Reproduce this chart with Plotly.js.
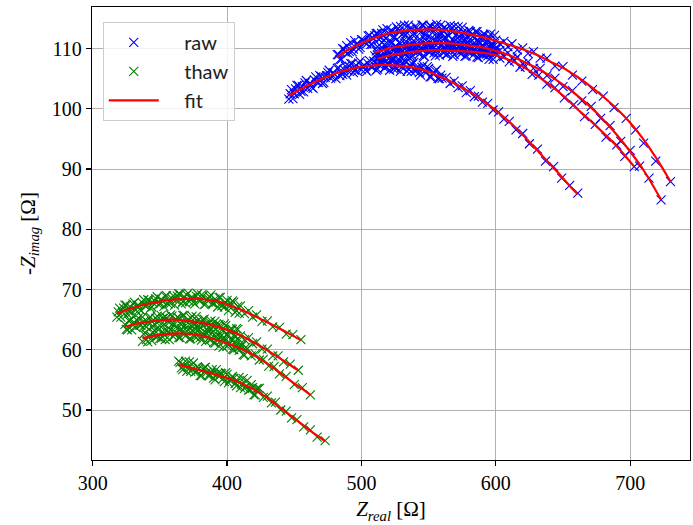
<!DOCTYPE html>
<html>
<head>
<meta charset="utf-8">
<script src="https://cdn.plot.ly/plotly-3.0.1.min.js"></script>
<style>html,body{margin:0;padding:0;background:#fff;}#chart{width:693px;height:525px;}</style>
</head>
<body>
<div id="chart"></div>
<script>
// ---- raw (blue) arcs ----
const rawA_x = [446,448,450,452,454,456,458,460,462,464,466,468,470,472,474,476,478,480,482,484,486,488,490,492,494,496,498,500,502,504,506,508,510,512,514,516,518,520,522,524,526,528,530,532,534,536,538,540,542,544,546,548,550,552,554,556,558,560,
  563,566,569,572,575,578,581,584,587,590,594,598,602,606,610,615,620,625,631,637,643,649,655,661];
const rawA_y = [101.6,103.2,102.5,103.9,102.4,103.7,104.3,103.4,104.2,103.4,105.3,104.4,105.4,104.4,105.5,106.4,105.3,105.7,106.7,105.5,105.7,107.1,106.3,107.5,106.0,107.2,107.6,106.5,107.2,106.2,108.0,106.9,107.7,106.6,107.5,108.2,106.9,107.2,108.0,106.6,106.6,107.9,106.9,108.0,106.2,107.3,107.4,106.2,106.7,105.6,107.2,106.0,106.7,105.3,106.0,106.5,105.0,105.1,
  105.2,104.2,104.6,103.5,103.8,102.7,103.0,102.0,102.1,101.1,100.9,99.8,99.5,98.3,97.9,96.5,95.9,94.2,93.3,91.3,90.4,88.5,87.3,86.0];
const rawA2_x = [447,449,451,453,455,457,459,461,463,465,467,469,471,473,475,477,479,481,483,485,487,489,491,493,495,497,499,501,503,505,507,509,511,513,515,517,519,521,523,525,527,529,531,533,535,537,539,541,543,545,547,549,551,553,555,557,559];
const rawA2_y = [102.5,101.7,103.3,103.9,102.9,102.8,104.7,104.1,103.6,104.8,104.4,105.5,104.2,105.2,106.0,105.1,106.0,105.0,106.8,105.9,106.5,105.6,107.1,107.5,106.4,106.2,107.9,107.1,106.5,107.5,107.0,107.9,106.4,107.3,107.9,106.8,107.6,106.4,108.0,106.9,107.4,106.2,107.6,107.8,106.6,106.2,107.7,106.8,106.0,106.9,106.2,107.0,105.3,105.9,106.3,105.0,105.6];
const rawB_x = [482,484,486,488,490,492,494,496,498,500,502,504,506,508,510,512,514,516,518,520,522,524,526,528,530,532,534,536,538,540,542,544,546,548,550,552,554,556,558,560,562,564,566,568,570,572,574,576,578,580,582,584,586,588,590,592,594,596,598,600,
  603,606,609,612,616,620,624,628,633,638,644,650,657,664,672,680,688,697,704,710,719,730];
const rawB_y = [109.0,108.2,110.0,109.4,109.2,111.0,109.9,110.7,109.9,111.5,111.1,110.8,112.2,110.7,112.1,112.5,111.8,113.1,111.7,112.6,113.0,112.0,113.6,112.8,112.3,113.9,112.6,113.3,112.3,113.7,113.2,112.7,113.9,112.3,113.5,113.7,112.9,114.0,112.4,113.2,113.5,112.3,113.8,112.8,112.2,113.6,112.3,112.8,111.7,113.0,112.3,111.7,112.8,111.1,112.2,112.3,111.4,112.4,110.7,111.4,
  110.8,111.2,110.3,110.8,109.8,110.1,109.2,109.5,108.4,108.4,107.1,107.0,105.6,104.6,103.2,102.1,100.2,98.4,96.5,94.3,91.3,87.9];
const rawB2_x = [483,485,487,489,491,493,495,497,499,501,503,505,507,509,511,513,515,517,519,521,523,525,527,529,531,533,535,537,539,541,543,545,547,549,551,553,555,557,559,561,563,565,567,569,571,573,575,577,579,581,583,585,587,589,591,593,595,597,599];
const rawB2_y = [109.0,108.2,109.9,110.5,109.5,109.5,111.3,110.7,110.2,111.4,111.0,112.1,110.7,111.7,112.5,111.5,112.5,111.4,113.3,112.3,112.9,111.9,113.3,113.7,112.5,112.3,113.9,113.2,112.5,113.5,113.0,113.9,112.4,113.2,113.8,112.7,113.5,112.2,113.9,112.8,113.2,112.1,113.4,113.7,112.4,112.0,113.5,112.6,111.9,112.8,112.0,112.8,111.2,112.0,112.4,111.2,111.9,110.6,112.2];
const rawC_x = [510,512,514,516,518,520,522,524,526,528,530,532,534,536,538,540,542,544,546,548,550,552,554,556,558,560,562,564,566,568,570,572,574,576,578,580,582,584,586,588,590,592,594,596,598,600,
  603,606,609,612,616,620,624,628,633,638,644,650,657,664,671,678,685,693,700,707,714,723];
const rawC_y = [108.8,110.3,108.8,110.0,110.5,109.7,111.0,109.6,110.3,111.0,109.5,110.9,110.4,111.4,110.0,111.0,110.4,111.4,110.0,111.4,110.4,111.7,110.1,111.1,111.5,110.6,111.8,110.3,110.8,111.5,109.9,111.1,110.5,111.4,109.9,110.8,110.0,111.0,109.5,110.8,109.7,110.9,109.2,110.1,110.3,109.3,
  109.7,108.8,109.3,108.4,108.6,107.5,107.8,106.7,106.7,105.5,105.1,103.7,103.0,101.3,100.4,98.4,97.2,94.6,93.1,90.5,88.5,84.9];
const rawC2_x = [511,513,515,517,519,521,523,525,527,529,531,533,535,537,539,541,543,545,547,549,551,553,555,557,559,561,563,565,567,569,571,573,575,577,579,581,583,585,587,589,591,593,595,597,599];
const rawC2_y = [109.6,108.6,110.2,110.6,109.6,109.4,111.0,110.3,109.7,110.8,110.2,111.2,109.8,110.6,111.3,110.2,111.1,109.9,111.6,110.6,111.1,110.0,111.4,111.7,110.5,110.2,111.8,110.9,110.2,111.2,110.6,111.4,109.8,110.6,111.1,110.0,110.7,109.4,111.1,109.9,110.3,109.1,110.4,110.6,109.3];
const rawD_x = [512,514,516,518,520,522,524,526,528,530,532,534,536,538,540,542,544,546,548,550,552,554,556,558,560,562,564,566,568,570,572,574,576,578,580,582,584,586,588,590,592,594,596,598,600,
  603,606,610,614,618,622,627,632,638,644,651,658,666,674,682,690,696,703];
const rawD_y = [108.9,108.0,108.6,107.9,109.7,108.7,108.4,109.6,108.2,109.5,110.0,108.8,109.6,108.8,110.3,109.5,110.0,108.8,110.3,109.4,110.3,109.3,109.8,108.9,110.6,109.5,109.1,110.2,108.7,109.9,110.3,109.1,109.8,108.8,110.3,109.4,109.8,108.6,110.0,109.0,109.8,108.8,109.2,108.2,109.8,
  108.4,108.7,107.8,108.0,106.9,107.0,105.7,105.6,104.1,103.5,101.8,100.7,98.7,97.4,95.3,94.0,92.1,90.4];
const rawD2_x = [513,515,517,519,521,523,525,527,529,531,533,535,537,539,541,543,545,547,549,551,553,555,557,559,561,563,565,567,569,571,573,575,577,579,581,583,585,587,589,591,593,595,597,599];
const rawD2_y = [108.6,107.6,109.1,109.6,108.5,108.3,109.9,109.2,108.6,109.6,109.1,110.0,108.6,109.5,110.1,109.1,109.9,108.7,110.5,109.4,109.9,108.8,110.2,110.5,109.3,109.0,110.6,109.7,109.0,110.0,109.4,110.3,108.7,109.5,110.1,108.9,109.7,108.5,110.1,109.0,109.4,108.2,109.5,109.8];

// ---- thaw (green) arcs ----
const thaw1_x = [318,320,322,324,326,328,330,332,334,336,338,340,342,344,346,348,350,352,354,356,358,360,362,364,366,368,370,372,374,376,378,380,382,384,386,388,390,392,394,396,398,400,402,404,406,408,410,
  413,416,419,422,426,430,434,439,444,449,455];
const thaw1_y = [65.4,66.9,66.2,67.4,65.9,67.1,67.6,66.6,67.4,66.5,68.3,67.3,68.2,67.1,68.1,68.8,67.6,68.0,68.9,67.6,67.7,69.0,68.2,69.3,67.6,68.8,69.1,68.0,68.6,67.6,69.3,68.1,68.9,67.6,68.5,69.1,67.7,67.9,68.7,67.3,67.1,68.2,67.2,68.1,66.2,67.2,67.3,
  66.0,66.5,65.4,65.8,64.7,64.8,63.8,63.7,62.6,62.5,61.7];
const thaw1b_x = [319,321,323,325,327,329,331,333,335,337,339,341,343,345,347,349,351,353,355,357,359,361,363,365,367,369,371,373,375,377,379,381,383,385,387,389,391,393,395,397,399,401,403,405,407,409];
const thaw1b_y = [66.3,65.4,66.9,67.4,66.4,66.2,67.9,67.3,66.7,67.8,67.3,68.3,66.9,67.8,68.5,67.5,68.4,67.2,69.0,67.9,68.5,67.4,68.9,69.2,68.0,67.8,69.4,68.6,67.9,68.9,68.2,69.1,67.5,68.3,68.8,67.7,68.4,67.1,68.7,67.5,67.8,66.5,67.8,67.9,66.5,66.1];
const thaw2_x = [324,326,328,330,332,334,336,338,340,342,344,346,348,350,352,354,356,358,360,362,364,366,368,370,372,374,376,378,380,382,384,386,388,390,392,394,396,398,400,402,404,406,408,410,
  413,416,419,422,426,430,434,438,442,447,453];
const thaw2_y = [64.2,63.3,64.9,64.1,63.7,65.3,64.1,64.7,63.8,65.3,64.7,64.3,65.6,64.0,65.2,65.5,64.7,65.8,64.3,65.1,65.3,64.2,65.7,64.7,64.2,65.6,64.2,64.8,63.7,65.0,64.3,63.7,64.8,63.1,64.2,64.2,63.3,64.3,62.6,63.2,63.4,62.1,63.4,62.3,
  61.7,62.0,61.0,61.3,60.1,60.1,59.0,59.0,58.0,57.6,56.6];
const thaw2b_x = [325,327,329,331,333,335,337,339,341,343,345,347,349,351,353,355,357,359,361,363,365,367,369,371,373,375,377,379,381,383,385,387,389,391,393,395,397,399,401,403,405,407,409];
const thaw2b_y = [63.4,64.8,63.3,64.5,64.9,64.1,65.4,64.0,64.6,65.4,63.9,65.2,64.7,65.7,64.2,65.3,64.6,65.6,64.2,65.4,64.4,65.7,64.0,65.0,65.3,64.4,65.5,63.9,64.5,65.1,63.4,64.6,63.9,64.7,63.1,64.0,63.1,64.0,62.4,63.5,62.4,63.5,61.7];
const thaw3_x = [337,339,341,343,345,347,349,351,353,355,357,359,361,363,365,367,369,371,373,375,377,379,381,383,385,387,389,391,393,395,397,399,401,403,405,407,409,411,413,415,
  418,421,424,427,431,435,439,444,450,456,462];
const thaw3_y = [61.4,62.8,61.3,62.4,62.9,62.1,63.3,61.9,62.6,63.3,61.7,63.1,62.5,63.5,62.0,63.0,62.3,63.3,61.8,63.1,62.0,63.3,61.6,62.5,62.7,61.7,62.8,61.1,61.6,62.2,60.4,61.6,60.8,61.7,60.0,60.8,59.9,60.7,59.1,60.2,
  59.0,59.3,58.3,58.4,57.3,57.2,56.0,55.6,54.2,53.7,52.5];
const thaw3b_x = [338,340,342,344,346,348,350,352,354,356,358,360,362,364,366,368,370,372,374,376,378,380,382,384,386,388,390,392,394,396,398,400,402,404,406,408,410,412,414];
const thaw3b_y = [62.6,61.7,62.3,61.5,63.2,62.2,61.9,63.0,61.7,62.9,63.3,62.2,62.9,62.0,63.5,62.6,63.1,61.8,63.2,62.2,63.1,62.0,62.4,61.4,63.0,61.7,61.2,62.2,60.6,61.7,62.0,60.6,61.1,60.1,61.4,60.3,60.6,59.2,60.4];
const thaw4_x = [364,366,368,370,372,374,376,378,380,382,384,386,388,390,392,394,396,398,400,402,404,406,408,410,412,414,416,418,420,422,424,
  427,430,433,436,440,444,448,452,457,462,467,473];
const thaw4_y = [58.1,57.0,57.4,56.4,58.0,56.8,56.3,57.2,55.7,56.8,57.1,55.7,56.3,55.3,56.7,55.6,56.0,54.7,55.9,54.9,55.6,54.4,54.8,53.7,55.2,53.9,53.3,54.2,52.5,53.5,53.6,
  52.1,52.3,51.2,51.3,50.0,49.8,48.7,48.4,47.2,46.7,45.5,44.9];
const thaw4b_x = [365,367,369,371,373,375,377,379,381,383,385,387,389,391,393,395,397,399,401,403,405,407,409,411,413,415,417,419,421,423];
const thaw4b_y = [57.9,56.7,58.1,57.1,56.4,57.8,56.4,56.9,55.7,57.0,56.3,55.7,56.7,55.0,56.1,56.1,55.2,56.2,54.5,55.2,55.3,54.0,55.4,54.3,53.6,54.9,53.4,53.7,52.5,53.6];

// ---- fit (red) curves ----
const fitA_x = [446,455,465,475,485,495,505,515,525,535,545,555,565,575,585,595,605,615,625,635,645,655,661];
const fitA_y = [102.2,103.3,104.4,105.4,106.2,106.8,107.1,107.3,107.2,107.0,106.5,105.7,104.7,103.5,102.2,100.6,98.8,96.8,94.5,92.1,89.7,87.2,85.8];
const fitB_x = [482,490,500,510,520,530,540,550,560,570,580,590,600,610,620,630,640,650,660,670,680,690,700,710,720,730];
const fitB_y = [108.6,109.8,110.9,111.8,112.5,112.9,113.1,113.2,113.1,112.8,112.4,111.9,111.3,110.6,109.9,109.0,107.9,106.8,105.4,103.8,102.0,100.0,97.7,94.9,91.6,87.9];
const fitC_x = [510,520,530,540,550,560,570,580,590,600,610,620,630,640,650,660,670,680,690,700,710,723];
const fitC_y = [109.3,110.0,110.4,110.7,110.9,110.9,110.8,110.5,110.2,109.6,108.9,107.9,106.8,105.5,104.0,102.3,100.4,98.2,95.7,92.9,89.8,84.9];
const fitD_x = [512,520,530,540,550,560,570,580,590,600,610,620,630,640,650,660,670,680,690,703];
const fitD_y = [108.3,108.8,109.2,109.5,109.7,109.7,109.6,109.5,109.3,108.9,108.1,107.0,105.6,104.0,102.2,100.1,98.1,96.0,93.8,90.4];
const fit1_x = [318,325,335,345,355,365,375,385,395,405,415,425,435,445,455];
const fit1_y = [66.0,66.6,67.3,67.8,68.2,68.4,68.5,68.3,67.9,67.1,66.2,65.1,64.0,62.8,61.6];
const fit2_x = [324,330,340,350,360,370,380,390,400,410,420,430,440,446,453];
const fit2_y = [63.8,64.2,64.6,64.9,65.0,64.8,64.5,64.0,63.3,62.4,61.2,59.9,58.5,57.6,56.6];
const fit3_x = [337,345,355,366,380,391,400,410,420,430,440,450,456,462];
const fit3_y = [61.9,62.3,62.6,62.7,62.4,61.7,61.1,60.2,59.1,57.7,56.1,54.4,53.5,52.5];
const fit4_x = [364,370,380,391,400,410,420,430,440,450,460,466,473];
const fit4_y = [57.5,57.2,56.6,55.9,55.3,54.5,53.4,52.0,50.3,48.6,46.9,45.9,44.8];

const xTicks = [300,400,500,600,700];
const yTicks = [50,60,70,80,90,100,110];
const legendNames = ['raw','thaw','fit'];

const rawSets = [[rawA_x.concat(rawA2_x), rawA_y.concat(rawA2_y)],
                 [rawB_x.concat(rawB2_x), rawB_y.concat(rawB2_y)],
                 [rawC_x.concat(rawC2_x), rawC_y.concat(rawC2_y)],
                 [rawD_x.concat(rawD2_x), rawD_y.concat(rawD2_y)]];
const thawSets = [[thaw1_x.concat(thaw1b_x), thaw1_y.concat(thaw1b_y)],
                  [thaw2_x.concat(thaw2b_x), thaw2_y.concat(thaw2b_y)],
                  [thaw3_x.concat(thaw3b_x), thaw3_y.concat(thaw3b_y)],
                  [thaw4_x.concat(thaw4b_x), thaw4_y.concat(thaw4b_y)]];
const fitSets = [[fitA_x,fitA_y],[fitB_x,fitB_y],[fitC_x,fitC_y],[fitD_x,fitD_y],[fit1_x,fit1_y],[fit2_x,fit2_y],[fit3_x,fit3_y],[fit4_x,fit4_y]];
const pad = '&nbsp;&nbsp;&nbsp;&nbsp;';

const traces = [];
rawSets.forEach((s,i) => traces.push({
  x: s[0], y: s[1], type:'scatter', mode:'markers', name: pad + legendNames[0], legendgroup:'raw', showlegend: i===0,
  marker:{symbol:'x-thin-open', size:9, color:'#0000ff', line:{width:1.1, color:'#0000ff'}}
}));
thawSets.forEach((s,i) => traces.push({
  x: s[0], y: s[1], type:'scatter', mode:'markers', name: pad + legendNames[1], legendgroup:'thaw', showlegend: i===0,
  marker:{symbol:'x-thin-open', size:9, color:'#008000', line:{width:1.1, color:'#008000'}}
}));
fitSets.forEach((s,i) => traces.push({
  x: s[0], y: s[1], type:'scatter', mode:'lines', name: pad + legendNames[2], legendgroup:'fit', showlegend: i===0,
  line:{color:'#ff0000', width:2.2, shape:'spline', smoothing:1}
}));

const serif = '"Liberation Serif", "DejaVu Serif", serif';
const tickFont = {family:serif, size:20, color:'#000'};
const layout = {
  width:693, height:525,
  margin:{l:92, r:3, t:7, b:65, pad:0},
  paper_bgcolor:'#fff', plot_bgcolor:'#fff',
  showlegend:true,
  xaxis:{
    range:[299.5, 744.5], tickvals:xTicks, ticktext:xTicks.map(String),
    showline:true, mirror:true, linecolor:'#000', linewidth:1.3,
    ticks:'outside', ticklen:5, tickwidth:1.2, tickcolor:'#000',
    showgrid:true, gridcolor:'#b0b0b0', gridwidth:1, zeroline:false,
    tickfont:tickFont, automargin:false,
    title:{text:'<i>Z</i><sub><i>real</i></sub> [Ω]', font:{family:serif, size:21, color:'#000'}, standoff:8}
  },
  yaxis:{
    range:[41.7, 116.9], tickvals:yTicks, ticktext:yTicks.map(String),
    showline:true, mirror:true, linecolor:'#000', linewidth:1.3,
    ticks:'outside', ticklen:5, tickwidth:1.2, tickcolor:'#000',
    showgrid:true, gridcolor:'#b0b0b0', gridwidth:1, zeroline:false,
    tickfont:tickFont, automargin:false,
    title:{text:'-<i>Z</i><sub><i>imag</i></sub> [Ω]', font:{family:serif, size:21, color:'#000'}, standoff:10}
  },
  legend:{
    x:0.018, y:0.967, xanchor:'left', yanchor:'top',
    bgcolor:'rgba(255,255,255,0.85)', bordercolor:'#cccccc', borderwidth:1,
    font:{family:'Lato, "Open Sans", sans-serif', size:20, color:'#222'},
    itemwidth:50, tracegroupgap:0
  }
};
Plotly.newPlot('chart', traces, layout, {displayModeBar:false, staticPlot:true});
</script>
</body>
</html>
